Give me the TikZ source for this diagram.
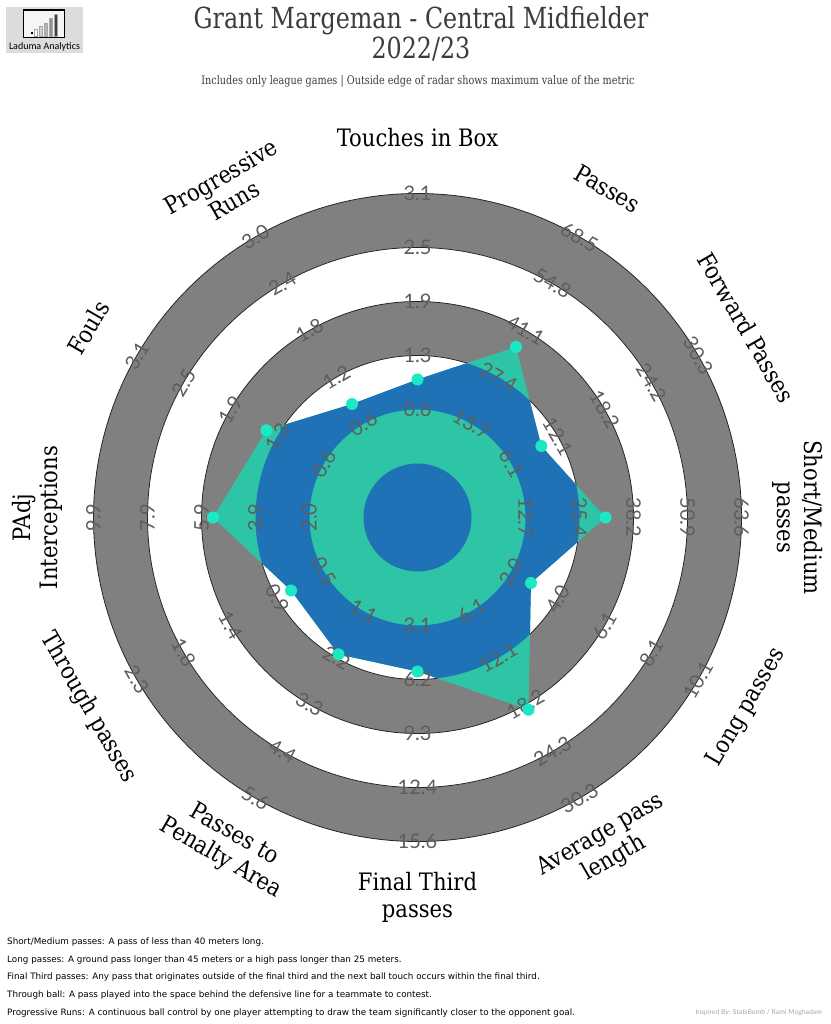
\documentclass[tikz,border=0pt]{standalone}
\usepackage{fontspec}
\setmainfont{DejaVu Serif}
\newfontfamily\slab[FakeStretch=0.88]{DejaVu Serif}
\newfontfamily\slabtitle[FakeStretch=0.82]{DejaVu Serif}
\newfontfamily\ringfont{Lato}
\newfontfamily\notefont{DejaVu Sans}
\newfontfamily\logofont{Carlito}
\usetikzlibrary{positioning}

\definecolor{ringgray}{HTML}{808080}
\definecolor{radarblue}{HTML}{1F72B6}
\definecolor{radarteal}{HTML}{2EC4A6}
\definecolor{markeraqua}{HTML}{1CE8C4}
\definecolor{valuegray}{HTML}{5E5E5E}
\definecolor{titlegray}{HTML}{3C3C3C}
\definecolor{logogray}{HTML}{DCDCDC}

\tikzset{
  metric/.style={font=\slab\fontsize{24}{27}\selectfont, align=center, inner sep=0pt},
  ringvalue/.style={font=\ringfont\fontsize{20}{20}\selectfont, text=valuegray, inner sep=0pt},
  statdot/.style={circle, fill=markeraqua, minimum size=12pt, inner sep=0pt},
  note/.style={font=\notefont\fontsize{8.8}{10}\selectfont, anchor=west, inner sep=0pt},
  logobar/.style={line width=0.3pt, draw=gray!70},
}

\begin{document}
\begin{tikzpicture}
\useasboundingbox (-417.5pt,-506.5pt) rectangle (412.5pt,517.5pt);

% rings
\foreach \r/\c in {324/ringgray, 270/white, 216/ringgray, 162/white, 108/ringgray, 54/white}
  \fill[\c] (0,0) circle (\r pt);
\foreach \r in {162,216,270,324}
  \draw[line width=0.8pt, black!85] (0,0) circle (\r pt);

% player values
\foreach \name/\ang/\rad in {touch/90/138, pass/60/197, fwd/30/143, short/0/188,
    long/-30/131, avg/-60/222, final/-90/154, pen/-120/158, thru/-150/146,
    padj/180/204.5, foul/150/174.5, prog/120/131}
  \coordinate (\name) at (\ang:\rad pt);

\fill[radarteal] (touch) -- (pass) -- (fwd) -- (short) -- (long) -- (avg) -- (final)
  -- (pen) -- (thru) -- (padj) -- (foul) -- (prog) -- cycle;
\begin{scope}
  \clip (touch) -- (pass) -- (fwd) -- (short) -- (long) -- (avg) -- (final)
    -- (pen) -- (thru) -- (padj) -- (foul) -- (prog) -- cycle;
  \fill[radarblue, even odd rule] (0,0) circle (54pt) (0,0) circle (108pt) (0,0) circle (162pt);
\end{scope}

% ring values
\foreach \ang/\rot/\vals [count=\a] in {
    90/0/{0.6,1.3,1.9,2.5,3.1},
    60/-30/{13.7,27.4,41.1,54.8,68.5},
    30/-60/{6.1,12.1,18.2,24.2,30.3},
    0/-90/{12.7,25.4,38.2,50.9,63.6},
    -30/60/{2.0,4.0,6.1,8.1,10.1},
    -60/30/{6.1,12.1,18.2,24.3,30.3},
    -90/0/{3.1,6.2,9.3,12.4,15.6},
    -120/-30/{1.1,2.2,3.3,4.4,5.6},
    -150/-60/{0.5,0.9,1.4,1.8,2.3},
    180/90/{2.0,3.9,5.9,7.9,9.9},
    150/60/{0.6,1.3,1.9,2.5,3.1},
    120/30/{0.6,1.2,1.8,2.4,3.0}}
{
  \foreach \v [count=\k] in \vals {
    \pgfmathsetmacro\rr{54*(\k+1)}
    \node[ringvalue, rotate=\rot] (val\a-\k) at (\ang:\rr pt) {\v};
  }
}

\foreach \name in {touch,pass,fwd,short,long,avg,final,pen,thru,padj,foul,prog}
  \node[statdot] (m-\name) at (\name) {};

% metric names
\node[metric] (lab-touch) at (90:380pt) {Touches in Box};
\node[metric, rotate=-30] (lab-pass) at (60:380pt) {Passes};
\node[metric, rotate=-60] (lab-fwd) at (30:380pt) {Forward Passes};
\node[metric, rotate=-90] (lab-short) at (0:380pt) {Short/Medium\\passes};
\node[metric, rotate=60] (lab-long) at (-30:380pt) {Long passes};
\node[metric, rotate=30] (lab-avg) at (-60:380pt) {Average pass\\length};
\node[metric] (lab-final) at (-90:380pt) {Final Third\\passes};
\node[metric, rotate=-30] (lab-pen) at (-120:380pt) {Passes to\\Penalty Area};
\node[metric, rotate=-60] (lab-thru) at (-150:380pt) {Through passes};
\node[metric, rotate=90] (lab-padj) at (180:380pt) {PAdj\\Interceptions};
\node[metric, rotate=60] (lab-foul) at (150:380pt) {Fouls};
\node[metric, rotate=30] (lab-prog) at (120:380pt) {Progressive\\Runs};

% header
\node[font=\slabtitle\fontsize{29}{30}\selectfont, text=titlegray, align=center] (title)
  at (3.5pt,483.5pt) {Grant Margeman - Central Midfielder\\2022/23};
\node[font=\slabtitle\fontsize{11.8}{13}\selectfont, text=titlegray] (subtitle)
  at (0.5pt,436.5pt) {Includes only league games | Outside edge of radar shows maximum value of the metric};

% logo
\fill[logogray] (-411.5pt,464.5pt) rectangle (-334.5pt,510.5pt);
\draw[line width=1.2pt, fill=gray!8] (-394.2pt,480.2pt) rectangle (-353.2pt,507.5pt);
\fill (-386.8pt,483.2pt) rectangle ++(2.2pt,2.2pt);
\foreach \x/\top/\c in {-381.5/488.2/white, -376.8/491.5/gray!35, -371.8/494.8/gray!60,
    -366.8/499.2/gray!85, -361.8/503.5/black!75}
  \filldraw[logobar, fill=\c] (\x pt-1.6pt,481.5pt) rectangle (\x pt+1.6pt,\top pt);
\node[font=\logofont\fontsize{10}{11}\selectfont] (logo) at (-373pt,471pt) {Laduma Analytics};

% definitions
\node[note] (note1) at (-410.5pt,-424.5pt) {Short/Medium passes: A pass of less than 40 meters long.};
\node[note] (note2) at (-410.5pt,-442.5pt) {Long passes: A ground pass longer than 45 meters or a high pass longer than 25 meters.};
\node[note] (note3) at (-410.5pt,-459.5pt) {Final Third passes: Any pass that originates outside of the final third and the next ball touch occurs within the final third.};
\node[note] (note4) at (-410.5pt,-477.5pt) {Through ball: A pass played into the space behind the defensive line for a teammate to contest.};
\node[note] (note5) at (-410.5pt,-495.5pt) {Progressive Runs: A continuous ball control by one player attempting to draw the team significantly closer to the opponent goal.};
\node[font=\ringfont\fontsize{6.8}{7}\selectfont, text=gray!70, anchor=east, inner sep=0pt] (credit)
  at (404.5pt,-495.5pt) {Inspired By: StatsBomb / Rami Moghadam};
\end{tikzpicture}
\end{document}
